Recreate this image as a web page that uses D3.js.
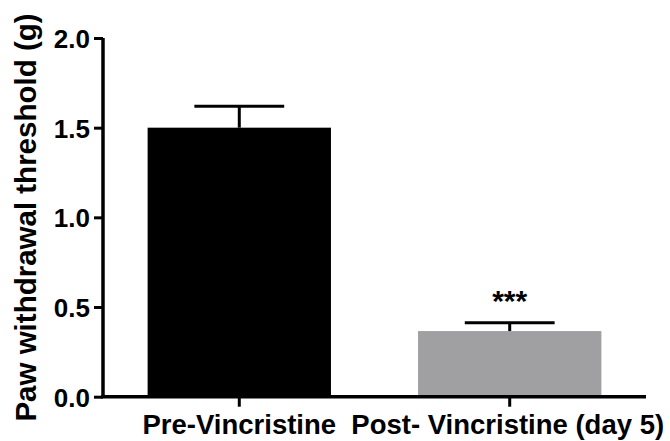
<!DOCTYPE html>
<html><head><meta charset="utf-8">
<script src="https://cdn.jsdelivr.net/npm/d3@7"></script>
<style>body{margin:0;background:#fff}svg{display:block}text{font-family:"Liberation Sans",Arial,sans-serif;font-weight:bold}</style>
</head><body><svg id="c" width="670" height="441"></svg>
<script>
const categories = ["Pre-Vincristine", "Post- Vincristine (day 5)"];
const means = [1.50, 0.366];
const sems = [0.12, 0.047];
const barColors = ["#000000", "#a0a0a2"];
const significance = ["", "***"];
const yTicks = [0.0, 0.5, 1.0, 1.5, 2.0];
const yLabel = "Paw withdrawal threshold (g)";

const svg = d3.select("#c");
const x0 = 103, x1 = 646, yTop = 38, yBot = 396.7;
const y = d3.scaleLinear().domain([0, 2]).range([yBot, yTop]);
const x = d3.scaleBand().domain(categories).range([x0, x1]).paddingInner(0.322).paddingOuter(0.165);

const g = svg.append("g");
// bars
g.selectAll("rect.bar").data(categories).join("rect")
  .attr("x", d => x(d)).attr("width", x.bandwidth())
  .attr("y", (d,i) => y(means[i])).attr("height", (d,i) => y(0) - y(means[i]))
  .attr("fill", (d,i) => barColors[i]);
// error bars
const capW = x.bandwidth() * 0.49;
categories.forEach((c,i) => {
  const cx = x(c) + x.bandwidth()/2;
  g.append("line").attr("x1", cx).attr("x2", cx).attr("y1", y(means[i])).attr("y2", y(means[i]+sems[i]))
    .attr("stroke", "#000").attr("stroke-width", 3);
  g.append("line").attr("x1", cx - capW/2).attr("x2", cx + capW/2).attr("y1", y(means[i]+sems[i])).attr("y2", y(means[i]+sems[i]))
    .attr("stroke", "#000").attr("stroke-width", 3);
  if (significance[i]) {
    g.append("text").attr("x", cx).attr("y", y(means[i]+sems[i]) - 12).attr("text-anchor", "middle")
      .attr("font-size", 30).text(significance[i]);
  }
});
// y axis
const ya = svg.append("g").attr("transform", `translate(${x0},0)`)
  .call(d3.axisLeft(y).tickValues(yTicks).tickFormat(d3.format(".1f")).tickSize(9).tickPadding(4));
ya.select(".domain").attr("stroke-width", 3.5).attr("d", `M0,${yTop}V${yBot}`);
ya.selectAll(".tick line").attr("stroke-width", 3);
ya.selectAll(".tick text").attr("font-size", 26).attr("fill", "#000").attr("dy", "0.36em");
// x axis
const xa = svg.append("g").attr("transform", `translate(0,${yBot})`)
  .call(d3.axisBottom(x).tickSize(10).tickPadding(8));
xa.select(".domain").attr("stroke-width", 3.5).attr("d", `M${x0 - 1.75},0H${x1}`);
xa.selectAll(".tick line").attr("stroke-width", 3);
xa.selectAll(".tick text").attr("font-size", 27.5).attr("fill", "#000").attr("dx", (d,i) => i === 1 ? -2 : 0);
// y label
svg.append("text").attr("transform", `translate(36,217.5) rotate(-90)`)
  .attr("text-anchor", "middle").attr("font-size", 29.5).text(yLabel);
</script></body></html>
